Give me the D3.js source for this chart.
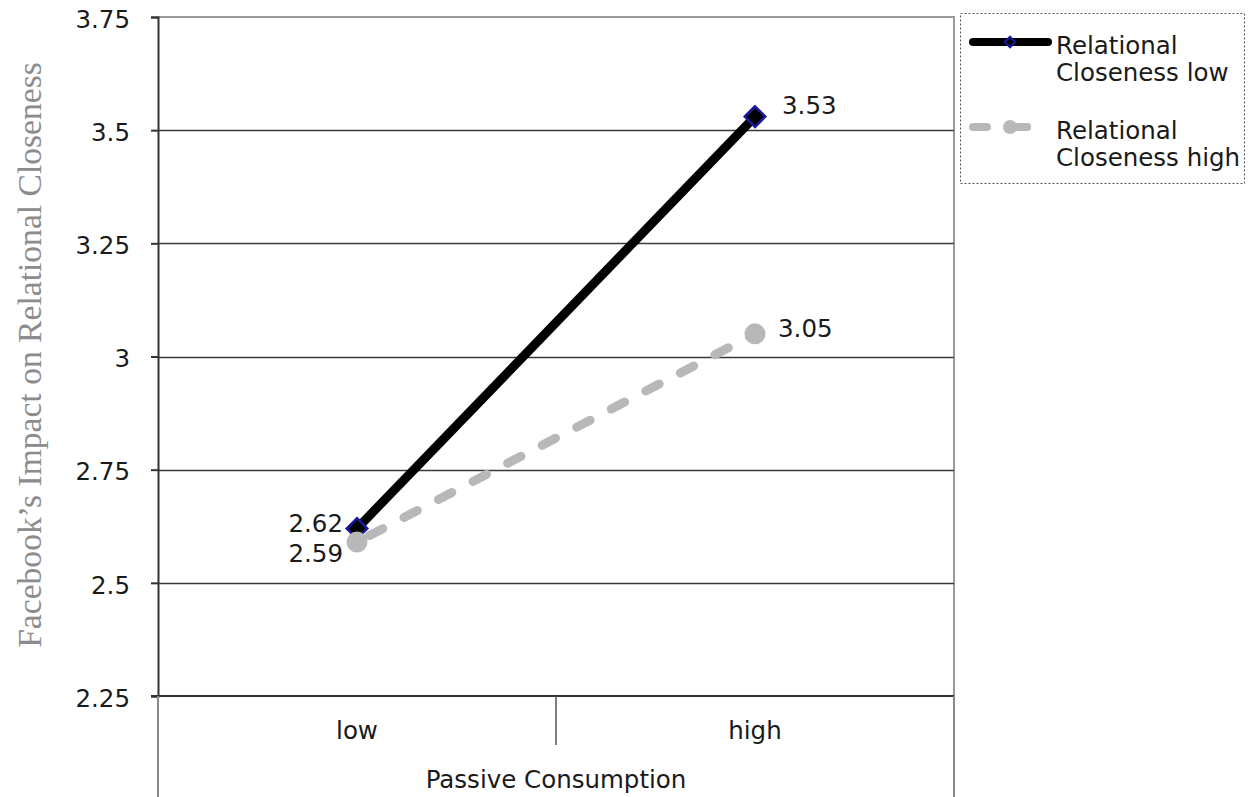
<!DOCTYPE html>
<html>
<head>
<meta charset="utf-8">
<script src="https://cdn.jsdelivr.net/npm/d3@7"></script>
<style>
  html, body { margin: 0; padding: 0; background: #fff; }
  svg { display: block; }
</style>
</head>
<body>
<svg id="chart" width="1248" height="797"></svg>
<script>
// Passive consumption levels on the x axis
const categories = ["low", "high"];
// Interaction series: relational closeness low / high
const seriesNames = ["Relational Closeness low", "Relational Closeness high"];
const closenessLow = [2.62, 3.53];
const closenessHigh = [2.59, 3.05];
const yTicks = [2.25, 2.5, 2.75, 3, 3.25, 3.5, 3.75];
const yTickLabels = ["2.25", "2.5", "2.75", "3", "3.25", "3.5", "3.75"];
const yTitle = "Facebook’s Impact on Relational Closeness";
const xTitle = "Passive Consumption";

const svg = d3.select("#chart");
const font = "'DejaVu Sans', Verdana, sans-serif";
const fs = 24.5;

const plot = { left: 158, right: 954, top: 17, bottom: 696 };

const x = d3.scaleBand().domain(categories).range([plot.left, plot.right]).paddingInner(0).paddingOuter(0);
const y = d3.scaleLinear().domain([2.25, 3.75]).range([plot.bottom, plot.top]);
const xc = c => x(c) + x.bandwidth() / 2;

// plot frame (top and right edges, light gray)
svg.append("path")
  .attr("d", `M${plot.left},${plot.top}H${plot.right}V${plot.bottom}`)
  .attr("fill", "none").attr("stroke", "#9a9a9a").attr("stroke-width", 2);

// horizontal gridlines
svg.append("g").selectAll("line")
  .data(yTicks.filter(v => v > 2.25 && v < 3.75))
  .join("line")
  .attr("x1", plot.left).attr("x2", plot.right)
  .attr("y1", d => Math.round(y(d)) + 0.5).attr("y2", d => Math.round(y(d)) + 0.5)
  .attr("stroke", "#3a3a3a").attr("stroke-width", 1.5);

// y axis
const yAxis = d3.axisLeft(y).tickValues(yTicks)
  .tickFormat((d, i) => yTickLabels[i]).tickSize(7).tickPadding(21);
const gy = svg.append("g").attr("transform", `translate(${plot.left},0)`).call(yAxis);
gy.select(".domain").attr("stroke", "#333").attr("stroke-width", 2);
gy.selectAll(".tick line").attr("stroke", "#333").attr("stroke-width", 2);
gy.selectAll(".tick text").attr("font-family", font).attr("font-size", fs).attr("fill", "#1a1a1a")
  .attr("dy", "0.42em");

// x axis baseline
svg.append("line")
  .attr("x1", plot.left - 7).attr("x2", plot.right)
  .attr("y1", plot.bottom).attr("y2", plot.bottom)
  .attr("stroke", "#333").attr("stroke-width", 2);

// category separators below the axis
svg.append("line")
  .attr("x1", x("high")).attr("x2", x("high"))
  .attr("y1", plot.bottom).attr("y2", 745)
  .attr("stroke", "#555").attr("stroke-width", 1.5);
svg.append("g").selectAll("line")
  .data([plot.left, plot.right])
  .join("line")
  .attr("x1", d => d).attr("x2", d => d)
  .attr("y1", plot.bottom).attr("y2", 797)
  .attr("stroke", "#8a8a8a").attr("stroke-width", 2);

// category labels
svg.append("g").selectAll("text")
  .data(categories)
  .join("text")
  .attr("x", d => xc(d)).attr("y", 739)
  .attr("text-anchor", "middle")
  .attr("font-family", font).attr("font-size", fs).attr("fill", "#1a1a1a")
  .text(d => d);

// x axis title
svg.append("text")
  .attr("x", (plot.left + plot.right) / 2).attr("y", 788)
  .attr("text-anchor", "middle")
  .attr("font-family", font).attr("font-size", fs).attr("fill", "#1a1a1a")
  .text(xTitle);

// y axis title
svg.append("text")
  .attr("transform", `translate(41,${(62 + 648) / 2}) rotate(-90)`)
  .attr("text-anchor", "middle")
  .attr("font-family", "'Liberation Serif', 'DejaVu Serif', serif")
  .attr("font-size", 33.6).attr("fill", "#8c8c8c")
  .text(yTitle);

const line = d3.line().x(d => xc(d.c)).y(d => y(d.v));
const lowPts = categories.map((c, i) => ({ c, v: closenessLow[i] }));
const highPts = categories.map((c, i) => ({ c, v: closenessHigh[i] }));

// series: relational closeness low (solid black, diamonds)
svg.append("path").datum(lowPts)
  .attr("d", line).attr("fill", "none")
  .attr("stroke", "#000").attr("stroke-width", 9).attr("stroke-linecap", "butt");
const diamond = d3.symbol().type(d3.symbolDiamond2).size(270);
svg.append("g").selectAll("path")
  .data(lowPts)
  .join("path")
  .attr("transform", d => `translate(${xc(d.c)},${y(d.v)})`)
  .attr("d", diamond)
  .attr("fill", "#000").attr("stroke", "#1a1aa0").attr("stroke-width", 2.5);

// series: relational closeness high (dashed gray, circles)
svg.append("path").datum(highPts)
  .attr("d", line).attr("fill", "none")
  .attr("stroke", "#b8b8b8").attr("stroke-width", 9)
  .attr("stroke-linecap", "round").attr("stroke-dasharray", "15,24")
  .attr("stroke-dashoffset", -14);
svg.append("g").selectAll("circle")
  .data(highPts)
  .join("circle")
  .attr("cx", d => xc(d.c)).attr("cy", d => y(d.v)).attr("r", 10.5)
  .attr("fill", "#b8b8b8");

// value labels
const labelStyle = s => s.attr("font-family", font).attr("font-size", fs).attr("fill", "#1a1a1a");
svg.append("text").call(labelStyle)
  .attr("x", xc("high") + 27).attr("y", y(closenessLow[1]) - 3)
  .text(closenessLow[1].toFixed(2));
svg.append("text").call(labelStyle)
  .attr("x", xc("high") + 23).attr("y", y(closenessHigh[1]) + 3)
  .text(closenessHigh[1].toFixed(2));
svg.append("text").call(labelStyle)
  .attr("x", xc("low") - 14).attr("y", y(closenessLow[0]) + 3)
  .attr("text-anchor", "end")
  .text(closenessLow[0].toFixed(2));
svg.append("text").call(labelStyle)
  .attr("x", xc("low") - 14).attr("y", y(closenessHigh[0]) + 20)
  .attr("text-anchor", "end")
  .text(closenessHigh[0].toFixed(2));

// legend
const legend = svg.append("g");
legend.append("rect")
  .attr("x", 960.5).attr("y", 13.5).attr("width", 284).attr("height", 170)
  .attr("fill", "#fff").attr("stroke", "#555").attr("stroke-width", 1)
  .attr("stroke-dasharray", "2,2");

const legendRows = [
  { name: seriesNames[0], y: 42 },
  { name: seriesNames[1], y: 127 }
];
// row 1: solid line with diamond
legend.append("line")
  .attr("x1", 973).attr("x2", 1048).attr("y1", legendRows[0].y).attr("y2", legendRows[0].y)
  .attr("stroke", "#000").attr("stroke-width", 8).attr("stroke-linecap", "round");
legend.append("path")
  .attr("transform", `translate(1010,${legendRows[0].y})`)
  .attr("d", d3.symbol().type(d3.symbolDiamond2).size(70))
  .attr("fill", "#000").attr("stroke", "#1a1aa0").attr("stroke-width", 2);
// row 2: dashed gray line with circle
legend.append("line")
  .attr("x1", 973).attr("x2", 1052).attr("y1", legendRows[1].y).attr("y2", legendRows[1].y)
  .attr("stroke", "#b8b8b8").attr("stroke-width", 8).attr("stroke-linecap", "round")
  .attr("stroke-dasharray", "14,26");
legend.append("line")
  .attr("x1", 1014).attr("x2", 1027).attr("y1", legendRows[1].y).attr("y2", legendRows[1].y)
  .attr("stroke", "#b8b8b8").attr("stroke-width", 8).attr("stroke-linecap", "round");
legend.append("circle")
  .attr("cx", 1010).attr("cy", legendRows[1].y).attr("r", 7)
  .attr("fill", "#b8b8b8");

legendRows.forEach(r => {
  const words = r.name.split(" ");
  const t = legend.append("text")
    .attr("font-family", font).attr("font-size", fs).attr("fill", "#1a1a1a");
  t.append("tspan").attr("x", 1056).attr("y", r.y + 12).text(words[0]);
  t.append("tspan").attr("x", 1056).attr("y", r.y + 39).text(words.slice(1).join(" "));
});
</script>
</body>
</html>
